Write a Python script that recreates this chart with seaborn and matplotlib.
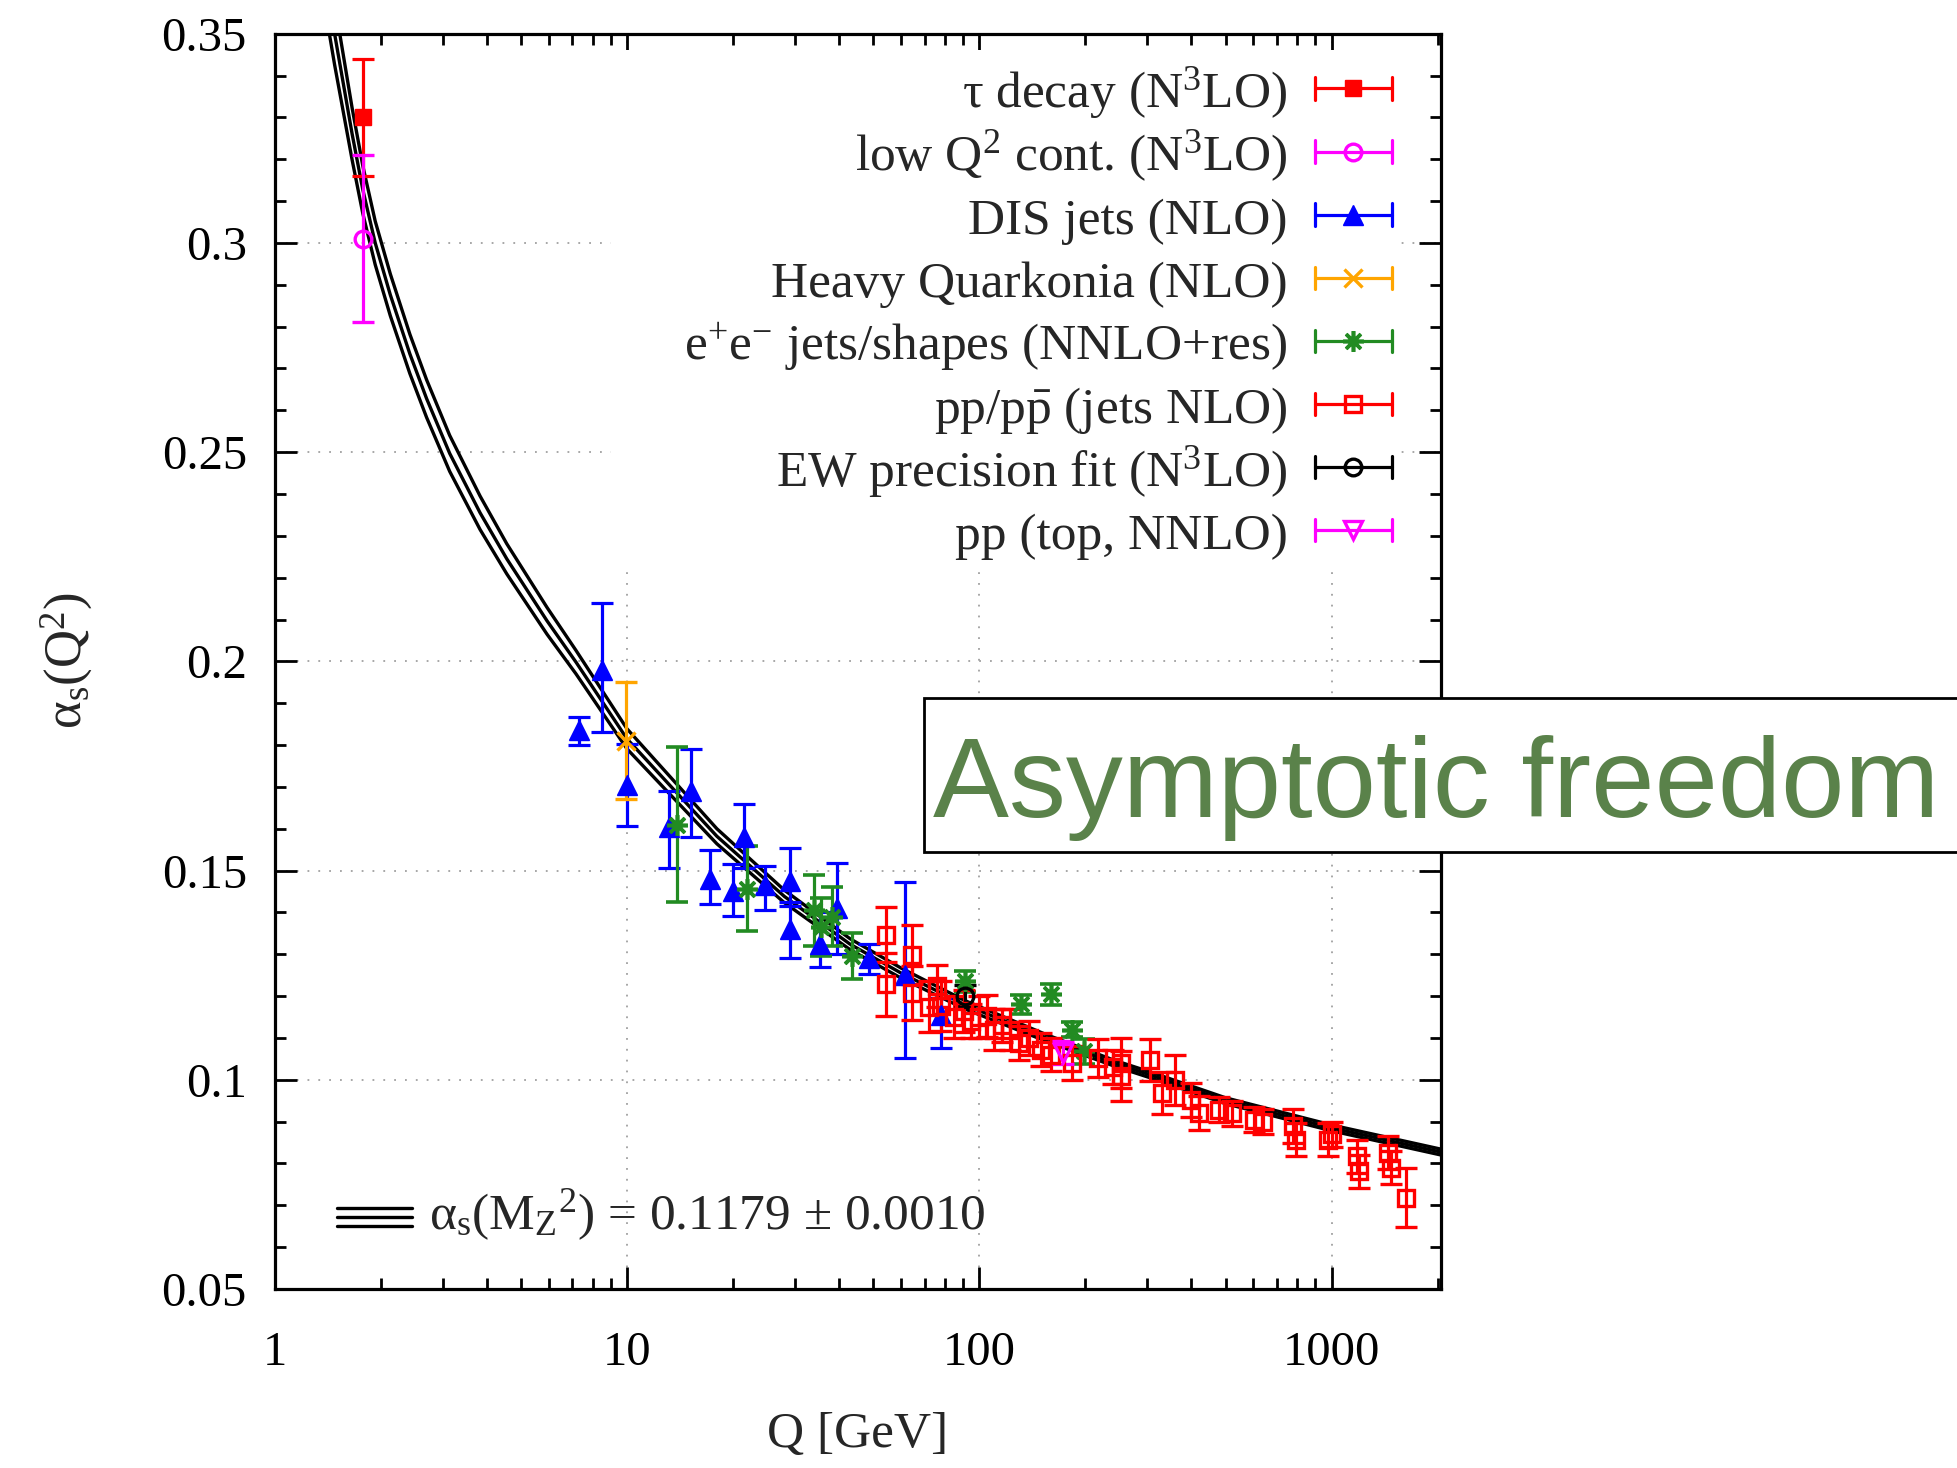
import numpy as np
import matplotlib
matplotlib.use('Agg')
import matplotlib.pyplot as plt
from matplotlib.patches import Rectangle
from matplotlib.ticker import FixedLocator, FixedFormatter, MultipleLocator, LogLocator, NullFormatter
import seaborn as sns

# running coupling band (central, upper, lower)
curve_q = [1.40, 1.48, 1.66, 1.78, 1.93, 2.13, 2.42, 2.70, 3.14, 3.83, 4.56, 5.93, 7.17, 10, 18, 28, 43, 60, 91.19,
           155, 241, 305, 500, 1000, 2050]
curve_mid = [0.3626, 0.350, 0.326, 0.3127, 0.300, 0.2876, 0.2735, 0.2628, 0.2497, 0.2355, 0.2245, 0.2097, 0.1998,
             0.1815, 0.1582, 0.1438, 0.1324, 0.1255, 0.1179, 0.1100, 0.1040, 0.1012, 0.0950, 0.0885, 0.0827]
curve_up = [0.3706, 0.3574, 0.3322, 0.3184, 0.3052, 0.2926, 0.2782, 0.2673, 0.2540, 0.2395, 0.2281, 0.2129, 0.2026,
            0.1839, 0.1600, 0.1453, 0.1337, 0.1267, 0.1189, 0.1108, 0.1047, 0.1019, 0.0957, 0.0892, 0.0834]
curve_lo = [0.3546, 0.3426, 0.3198, 0.3070, 0.2948, 0.2826, 0.2688, 0.2583, 0.2454, 0.2315, 0.2209, 0.2065, 0.1970,
            0.1791, 0.1564, 0.1423, 0.1311, 0.1243, 0.1169, 0.1092, 0.1033, 0.1005, 0.0943, 0.0878, 0.0820]

# tau decay
tau_q = [1.777]
tau_a = [0.330]
tau_err = [0.014]

# low Q^2 continuum
lowq_q = [1.777]
lowq_a = [0.301]
lowq_err = [0.020]

# DIS jets
dis_q = [7.3, 8.5, 10.0, 13.2, 15.2, 17.2, 20.0, 21.5, 24.6, 29.1, 29.1, 35.4, 39.5, 48.6, 61.4, 77.7]
dis_a = [0.1836, 0.198, 0.1705, 0.1603, 0.1690, 0.1480, 0.1452, 0.1581, 0.1466, 0.1475, 0.1361, 0.1324, 0.1411,
         0.1292, 0.1251, 0.1155]
dis_lo = [0.0035, 0.015, 0.0098, 0.0096, 0.011, 0.006, 0.006, 0.0074, 0.006, 0.006, 0.007, 0.0054, 0.011, 0.004,
          0.020, 0.008]
dis_hi = [0.003, 0.016, 0.0098, 0.0087, 0.010, 0.0068, 0.0064, 0.0079, 0.0046, 0.008, 0.0064, 0.0078, 0.0107,
          0.0032, 0.0222, 0.004]

# heavy quarkonia
hq_q = [9.95]
hq_a = [0.181]
hq_err = [0.014]

# e+e- jets / shapes
ee_q = [13.9, 21.9, 34.0, 35.5, 38.1, 43.6, 91.2, 131.5, 159.5, 183.7, 198.5]
ee_a = [0.161, 0.1457, 0.1405, 0.1365, 0.1390, 0.1295, 0.1235, 0.1180, 0.1204, 0.1120, 0.1068]
ee_err = [0.0185, 0.0102, 0.0085, 0.0070, 0.0070, 0.0055, 0.0025, 0.0023, 0.0025, 0.0017, 0.0030]

# pp / ppbar jets
pp_q = [54.5, 54.5, 64.5, 64.5, 72, 75.7, 78, 85, 90.5, 95, 100, 105, 110, 116, 122, 130, 138, 150, 160, 183,
        218, 240, 253, 253, 305, 330, 360, 400, 420, 480, 520, 601, 640, 778, 790, 979, 1000, 1180, 1200, 1450,
        1470, 1630]
pp_a = [0.1347, 0.1228, 0.1299, 0.1208, 0.1175, 0.1224, 0.1176, 0.1150, 0.1165, 0.1140, 0.1150, 0.1152, 0.1120,
        0.1130, 0.1120, 0.1088, 0.1100, 0.1072, 0.1060, 0.1040, 0.1052, 0.1030, 0.1040, 0.1009, 0.1048, 0.0969,
        0.1000, 0.0952, 0.0921, 0.0928, 0.0920, 0.0905, 0.0900, 0.0889, 0.0857, 0.0857, 0.0870, 0.0817, 0.0781,
        0.0826, 0.0790, 0.0718]
pp_err = [0.0065, 0.0075, 0.007, 0.0065, 0.006, 0.005, 0.006, 0.005, 0.005, 0.004, 0.005, 0.005, 0.005, 0.004,
          0.005, 0.004, 0.004, 0.004, 0.004, 0.004, 0.0045, 0.004, 0.006, 0.006, 0.005, 0.005, 0.006, 0.004, 0.004,
          0.003, 0.003, 0.003, 0.003, 0.004, 0.004, 0.004, 0.003, 0.004, 0.004, 0.004, 0.004, 0.007]

# EW precision fit
ew_q = [91.19]
ew_a = [0.1200]
ew_err = [0.0026]

# pp top
top_q = [173.0]
top_a = [0.1065]
top_err = [0.0028]

y_ticks = [0.05, 0.1, 0.15, 0.2, 0.25, 0.3, 0.35]
y_tick_labels = ['0.05', '0.1', '0.15', '0.2', '0.25', '0.3', '0.35']
x_ticks = [1, 10, 100, 1000]
x_tick_labels = ['1', '10', '100', '1000']

legend_labels = [
    'τ decay (N$^3$LO)',
    'low Q$^2$ cont. (N$^3$LO)',
    'DIS jets (NLO)',
    'Heavy Quarkonia (NLO)',
    r'e$^{+}$e$^{\mathrm{-}}$ jets/shapes (NNLO+res)',
    r'pp/p$\bar{\mathrm{p}}$ (jets NLO)',
    'EW precision fit (N$^3$LO)',
    'pp (top, NNLO)',
]

sns.set_theme(style='ticks')
plt.rcParams['font.family'] = ['Liberation Serif', 'DejaVu Serif']
plt.rcParams['mathtext.fontset'] = 'custom'
plt.rcParams['mathtext.rm'] = 'Liberation Serif'
plt.rcParams['mathtext.it'] = 'Liberation Serif:italic'
plt.rcParams['mathtext.bf'] = 'Liberation Serif:bold'

RED = '#ff0000'
MAG = '#ff00ff'
BLUE = '#0000ff'
ORANGE = '#ffa500'
GREEN = '#228b22'
LW = 2.3

fig = plt.figure(figsize=(19.57, 14.68), dpi=100)
ax = fig.add_axes([0.14032, 0.12193, 0.59622, 0.85511])
ax.set_xscale('log')

# band: three black curves
for ys in (curve_up, curve_mid, curve_lo):
    sns.lineplot(x=curve_q, y=ys, ax=ax, color='black', linewidth=2.4, estimator=None, sort=False, zorder=2)

eb = dict(linestyle='none', elinewidth=LW, capsize=8, capthick=LW, zorder=3)

series = [
    (tau_q, tau_a, [tau_err, tau_err], RED, dict(marker='s', ms=12, mfc=RED, mec=RED)),
    (lowq_q, lowq_a, [lowq_err, lowq_err], MAG, dict(marker='o', ms=12, mfc='none', mec=MAG, mew=2.4)),
    (dis_q, dis_a, [dis_lo, dis_hi], BLUE, dict(marker='^', ms=14, mfc=BLUE, mec=BLUE)),
    (hq_q, hq_a, [hq_err, hq_err], ORANGE, dict(marker='x', ms=13, mec=ORANGE, mew=2.4)),
    (ee_q, ee_a, [ee_err, ee_err], GREEN, dict(marker=(8, 2, 0), ms=15, mec=GREEN, mew=2.6)),
    (pp_q, pp_a, [pp_err, pp_err], RED, dict(marker='s', ms=11, mfc='none', mec=RED, mew=2.4)),
    (ew_q, ew_a, [ew_err, ew_err], 'black', dict(marker='o', ms=12, mfc='none', mec='black', mew=2.4)),
    (top_q, top_a, [top_err, top_err], MAG, dict(marker='v', ms=13, mfc='none', mec=MAG, mew=2.4)),
]
for q, a, err, col, mk in series:
    ax.errorbar(q, a, yerr=err, color=col, ecolor=col, **mk, **eb)

ax.set_xlim(1, 2050)
ax.set_ylim(0.05, 0.35)

ax.yaxis.set_major_locator(FixedLocator(y_ticks))
ax.yaxis.set_major_formatter(FixedFormatter(y_tick_labels))
ax.yaxis.set_minor_locator(MultipleLocator(0.01))
ax.xaxis.set_major_locator(FixedLocator(x_ticks))
ax.xaxis.set_major_formatter(FixedFormatter(x_tick_labels))
ax.xaxis.set_minor_locator(LogLocator(base=10, subs=range(2, 10), numticks=20))
ax.xaxis.set_minor_formatter(NullFormatter())

ax.tick_params(which='both', direction='in', top=True, right=True, colors='black', width=2.0)
ax.tick_params(which='major', length=16)
ax.tick_params(which='minor', length=8)
ax.tick_params(axis='y', which='major', labelsize=35, pad=20)
ax.tick_params(axis='x', which='major', labelsize=35, pad=30)
for s in ax.spines.values():
    s.set_linewidth(2.3)
    s.set_color('black')

ax.grid(True, which='major', color='#a0a0a0', linestyle=(0, (1, 5)), linewidth=1.3)
ax.set_axisbelow(True)

# opaque key area
ax.add_patch(Rectangle((0.2883, 0.5744), 0.6762, 0.4126, transform=ax.transAxes,
                       facecolor='white', edgecolor='none', zorder=1))

# key rows
row0 = 0.9564
drow = 0.05027
for i, (q, a, err, col, mk) in enumerate(series):
    y = row0 - i * drow
    ax.text(0.8680, y - 0.0151, legend_labels[i], transform=ax.transAxes, ha='right', va='baseline',
            fontsize=37, zorder=4)
    ax.plot([0.8917, 0.9573], [y, y], transform=ax.transAxes, color=col, lw=LW, clip_on=False, zorder=4)
    for xc in (0.8917, 0.9573):
        ax.plot([xc, xc], [y - 0.0089, y + 0.0089], transform=ax.transAxes, color=col, lw=LW,
                clip_on=False, zorder=4)
    ax.plot([0.9240], [y], transform=ax.transAxes, color=col, linestyle='none', clip_on=False, zorder=4, **mk)

# band key
for dy in (-0.00685, 0.0, 0.00685):
    ax.plot([0.0535, 0.1178], [0.0574 + dy, 0.0574 + dy], transform=ax.transAxes, color='black', lw=2.4)
ax.text(0.132, 0.0478, r'α$_{\mathrm{s}}$(M$_{\mathrm{Z}}$$^{2}$) = 0.1179 ± 0.0010', transform=ax.transAxes,
        ha='left', va='baseline', fontsize=37, zorder=4)

fig.text(0.4384, 0.0225, 'Q [GeV]', ha='center', va='center', fontsize=37)
fig.text(0.034, 0.5497, r'α$_{\mathrm{s}}$(Q$^{2}$)', ha='center', va='center', rotation=90, fontsize=38)

# annotation box
fig.patches.append(Rectangle((0.472, 0.4198), 0.6, 0.1045, transform=fig.transFigure,
                             facecolor='white', edgecolor='black', linewidth=2, zorder=5))
fig.text(0.477, 0.4435, 'Asymptotic freedom', ha='left', va='baseline', fontsize=82,
         family='Liberation Sans', color='#5a824a', zorder=6)

fig.savefig('out.png', dpi=100)
